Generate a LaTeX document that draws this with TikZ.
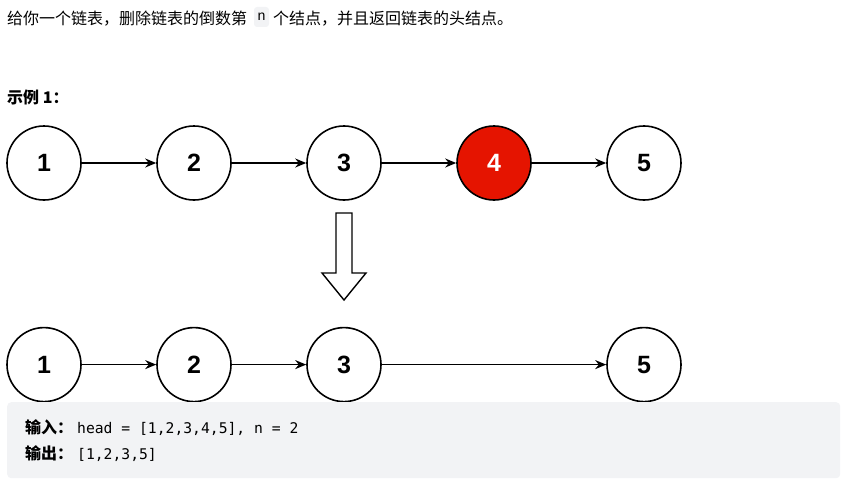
\documentclass[tikz,border=0pt]{standalone}
\usepackage{fontspec}
\usepackage{xcolor}
\usepackage{tikz}
\usetikzlibrary{arrows.meta,positioning}
\setmainfont{Noto Sans CJK SC}
\setmonofont{DejaVu Sans Mono}
\newfontfamily\numfont{Liberation Sans}
\newfontfamily\chipfont{Liberation Mono}
\definecolor{DelRed}{HTML}{E51400}
\definecolor{PanelGray}{HTML}{F2F3F5}

\begin{document}
\begin{tikzpicture}[
  x=1pt, y=-1pt,
  node distance=74.4pt,
  listnode/.style={draw,circle,line width=1.6pt,minimum size=74pt,inner sep=0pt,
    font=\numfont\fontsize{25}{25}\selectfont\bfseries},
  delnode/.style={listnode,fill=DelRed,text=white},
  arrow/.style={-{Stealth[length=11pt,width=9pt]},line width=1.5pt},
  txt/.style={inner sep=0pt,anchor=base west,font=\fontsize{16}{16}\selectfont},
  codeline/.style={inner sep=0pt,anchor=base west,font=\fontsize{14.7}{14.7}\selectfont}
]
  \useasboundingbox (0,0) rectangle (851,487);

  % problem statement
  \node[txt] (intro) at (7,25) {给你一个链表，删除链表的倒数第};
  \node[fill=PanelGray,rounded corners=3pt,minimum width=15pt,minimum height=20pt,inner sep=0pt,
    font=\chipfont\fontsize{14}{14}\selectfont] (chip) at (261.5,17) {n};
  \node[txt] (rest) at (273,25) {个结点，并且返回链表的头结点。};
  \node[txt,font=\fontsize{16}{16}\selectfont\bfseries] (example) at (7,103) {示例 1：};

  % list before
  \node[listnode] (n1) at (44,163) {1};
  \node[listnode, right=of n1] (n2) {2};
  \node[listnode, right=of n2] (n3) {3};
  \node[delnode, right=of n3] (n4) {4};
  \node[listnode, right=of n4] (n5) {5};
  \draw[arrow] (n1) -- (n2);
  \draw[arrow] (n2) -- (n3);
  \draw[arrow] (n3) -- (n4);
  \draw[arrow] (n4) -- (n5);

  % hollow arrow
  \draw[line width=1.4pt,line join=miter] (336,213) -- (352,213) -- (352,273) -- (366,273)
    -- (344,300) -- (322,273) -- (336,273) -- cycle;

  % list after
  \node[listnode, below=126pt of n1] (m1) {1};
  \node[listnode, right=of m1] (m2) {2};
  \node[listnode, right=of m2] (m3) {3};
  \node[listnode, below=126pt of n5] (m5) {5};
  \draw[arrow] (m1) -- (m2);
  \draw[arrow] (m2) -- (m3);
  \draw[arrow] (m3) -- (m5);

  % input / output panel
  \node[fill=PanelGray,rounded corners=4pt,anchor=north west,minimum width=833pt,
    minimum height=76pt,inner sep=0pt] (panel) at (7,402) {};
  \node[txt,font=\fontsize{16}{16}\selectfont\bfseries] (inlabel) at (25,433) {输入：};
  \node[codeline] (input) at (77,433) {\ttfamily head = [1,2,3,4,5], n = 2};
  \node[txt,font=\fontsize{16}{16}\selectfont\bfseries] (outlabel) at (25,459) {输出：};
  \node[codeline] (output) at (77,459) {\ttfamily [1,2,3,5]};
\end{tikzpicture}
\end{document}
